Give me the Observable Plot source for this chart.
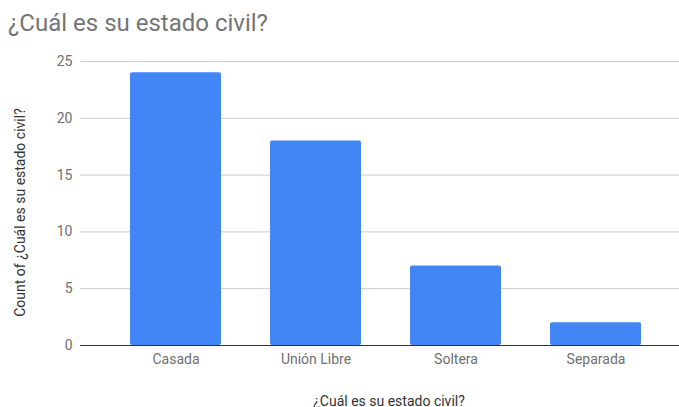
<!DOCTYPE html>
<html>
<head>
<meta charset="utf-8">
<script src="https://cdn.jsdelivr.net/npm/d3@7"></script>
<script src="https://cdn.jsdelivr.net/npm/@observablehq/plot@0.6"></script>
<style>
  html, body { margin: 0; padding: 0; background: #fff; }
  #title { height: 40px; box-sizing: border-box; padding: 9px 0 0 8px; font-family: Roboto, sans-serif; font-size: 24px; color: #757575; line-height: 28px; }
  svg { display: block; }
</style>
</head>
<body>
<div id="title">¿Cuál es su estado civil?</div>
<div id="chart"></div>
<script>
const categories = ["Casada", "Unión Libre", "Soltera", "Separada"];
const counts = [24, 18, 7, 2];
const yTicks = [0, 5, 10, 15, 20, 25];
const xTitle = "¿Cuál es su estado civil?";
const yTitle = "Count of ¿Cuál es su estado civil?";

const data = categories.map((c, i) => ({category: c, count: counts[i]}));

const chart = Plot.plot({
  width: 679,
  height: 367,
  marginTop: 21,
  marginBottom: 62,
  marginLeft: 80,
  marginRight: 0,
  style: {fontFamily: "Roboto, sans-serif", fontSize: "14px", color: "#666", background: "#fff"},
  x: {domain: categories, range: [105, 665], paddingInner: 0.35, paddingOuter: 0.175, label: null},
  y: {domain: [0, 25], label: null},
  marks: [
    Plot.ruleY(yTicks.filter(d => d > 0), {stroke: "#cccccc", strokeWidth: 1}),
    Plot.barY(data, {x: "category", y: "count", fill: "#4285f4", rx: 2}),
    Plot.ruleY([0], {stroke: "#333333", strokeWidth: 1}),
    Plot.axisY({ticks: yTicks, tickSize: 0, tickPadding: 8, label: null, fill: "#707070", fontSize: 14}),
    Plot.axisX({tickSize: 0, tickPadding: 9, label: null, fill: "#707070", fontSize: 14}),
    Plot.text([yTitle], {frameAnchor: "left", textAnchor: "middle", rotate: -90, dx: -60, dy: 9, fill: "#333", fontSize: 14}),
    Plot.text([xTitle], {frameAnchor: "bottom", textAnchor: "middle", dx: 9, dy: 60, fill: "#333", fontSize: 14})
  ]
});
document.getElementById("chart").appendChild(chart);
</script>
</body>
</html>
